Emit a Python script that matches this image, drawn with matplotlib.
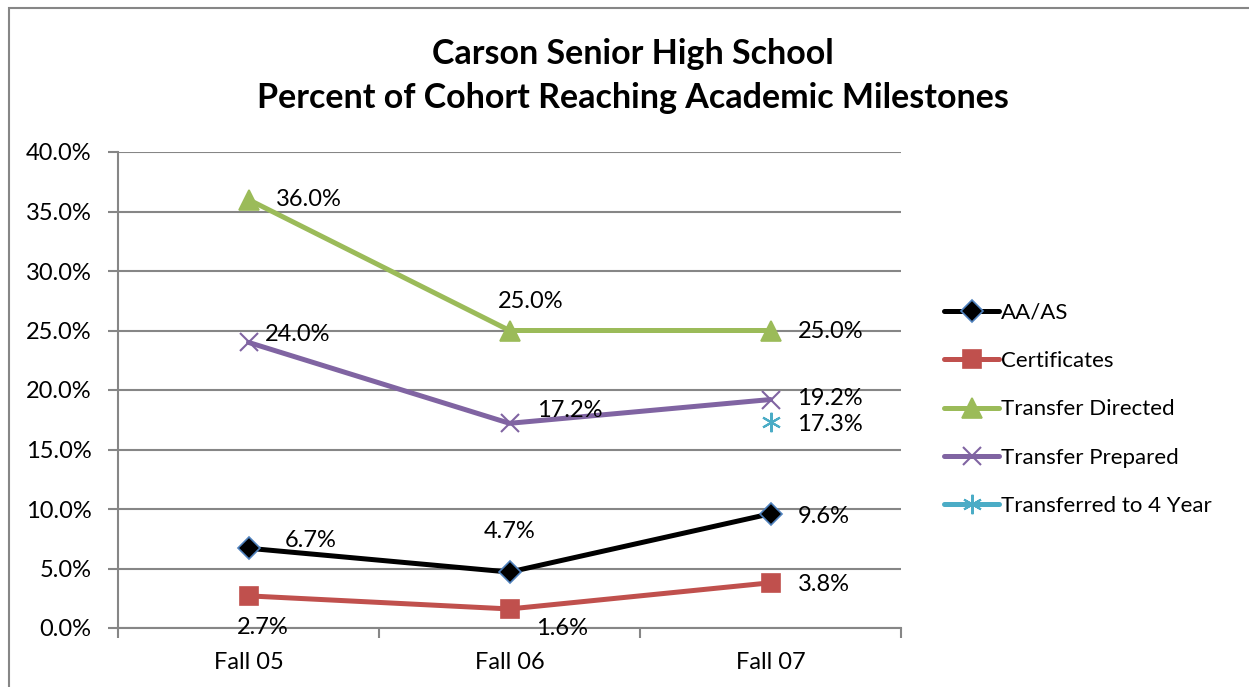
import matplotlib
matplotlib.use("Agg")
import matplotlib.pyplot as plt
from matplotlib.patches import Rectangle
from matplotlib.ticker import FuncFormatter, MultipleLocator

plt.rcParams['font.family'] = ['Lato', 'DejaVu Sans']

categories = ["Fall 05", "Fall 06", "Fall 07"]
aa_as = [6.7, 4.7, 9.6]
certificates = [2.7, 1.6, 3.8]
transfer_directed = [36.0, 25.0, 25.0]
transfer_prepared = [24.0, 17.2, 19.2]
transferred_4yr = [None, None, 17.3]

title = "Carson Senior High School\nPercent of Cohort Reaching Academic Milestones"

W, H = 1249, 687
fig = plt.figure(figsize=(W / 100, H / 100), dpi=100)
fig.patch.set_facecolor("white")
fig.patches.append(Rectangle((9 / W, -0.1), 1.2, 1 - 8 / H + 0.1, transform=fig.transFigure,
                             fill=False, edgecolor="#868686", linewidth=1.5))

ax = fig.add_axes([118 / W, 1 - 628 / H, (901 - 118) / W, (628 - 152) / H])
x = list(range(len(categories)))

series = [
    ("AA/AS", aa_as, "black", "D", 11, "#4F81BD"),
    ("Certificates", certificates, "#C0504D", "s", 13, "#C0504D"),
    ("Transfer Directed", transfer_directed, "#9BBB59", "^", 14, "#9BBB59"),
    ("Transfer Prepared", transfer_prepared, "#8064A2", "x", 13, "#8064A2"),
    ("Transferred to 4 Year", transferred_4yr, "#4BACC6", (6, 2, 0), 14, "#4BACC6"),
]

for name, vals, col, mk, ms, mec in series:
    xs = [xi for xi, v in zip(x, vals) if v is not None]
    ys = [v for v in vals if v is not None]
    mew = 1.5 if mk in ("x", (6, 2, 0)) else 1.2
    ax.plot(xs, ys, color=col, lw=3.6, marker=mk, markersize=ms,
            markerfacecolor=col if mk not in ("x", (6, 2, 0)) else "none",
            markeredgecolor=mec, markeredgewidth=mew, label=name, zorder=3,
            solid_capstyle="round")

# data label offsets in pixels (dx, dy, ha)
label_pos = {
    "AA/AS": [(62, 8, "center"), (0, 41, "center"), (27, -3, "left")],
    "Certificates": [(14, -32, "center"), (53, -20, "center"), (27, -2, "left")],
    "Transfer Directed": [(27, 0, "left"), (21, 29, "center"), (27, -1, "left")],
    "Transfer Prepared": [(16, 8, "left"), (28, 13, "left"), (27, 1, "left")],
    "Transferred to 4 Year": [None, None, (27, -2, "left")],
}
for name, vals, *_ in series:
    for xi, v, pos in zip(x, vals, label_pos[name]):
        if v is None or pos is None:
            continue
        dx, dy, ha = pos
        ax.annotate(f"{v:.1f}%", (xi, v), xytext=(dx, dy), textcoords="offset pixels",
                    ha=ha, va="center", fontsize=17, color="black", zorder=5)

ax.set_xlim(-0.5, 2.5)
ax.set_ylim(0, 40)
ax.yaxis.set_major_locator(MultipleLocator(5))
ax.yaxis.set_major_formatter(FuncFormatter(lambda v, p: f"{v:.1f}%"))
ax.set_xticks(x)
ax.set_xticklabels(categories)
ax.set_xticks([-0.5, 0.5, 1.5, 2.5], minor=True)
ax.tick_params(axis="x", which="major", length=0, pad=17, labelsize=17)
ax.tick_params(axis="x", which="minor", length=7, width=1.5, color="#868686", direction="out")
ax.tick_params(axis="y", length=7, width=1.5, color="#868686", direction="out", pad=12, labelsize=17)
ax.grid(axis="y", color="#868686", linewidth=1.5)
ax.set_axisbelow(True)
for s in ["top", "right"]:
    ax.spines[s].set_visible(False)
for s in ["left", "bottom"]:
    ax.spines[s].set_color("#868686")
    ax.spines[s].set_linewidth(1.5)

fig.text(0.507, 1 - 76 / H, title, ha="center", va="center", fontsize=24.5, fontweight="bold",
         linespacing=1.45)

leg = ax.legend(loc="upper left", bbox_to_anchor=(935 / W, 1 - 294 / H), bbox_transform=fig.transFigure,
                frameon=False, fontsize=16, handlelength=2.5, handletextpad=0.05, labelspacing=1.27,
                borderaxespad=0)

fig.savefig("out.png", dpi=100)
